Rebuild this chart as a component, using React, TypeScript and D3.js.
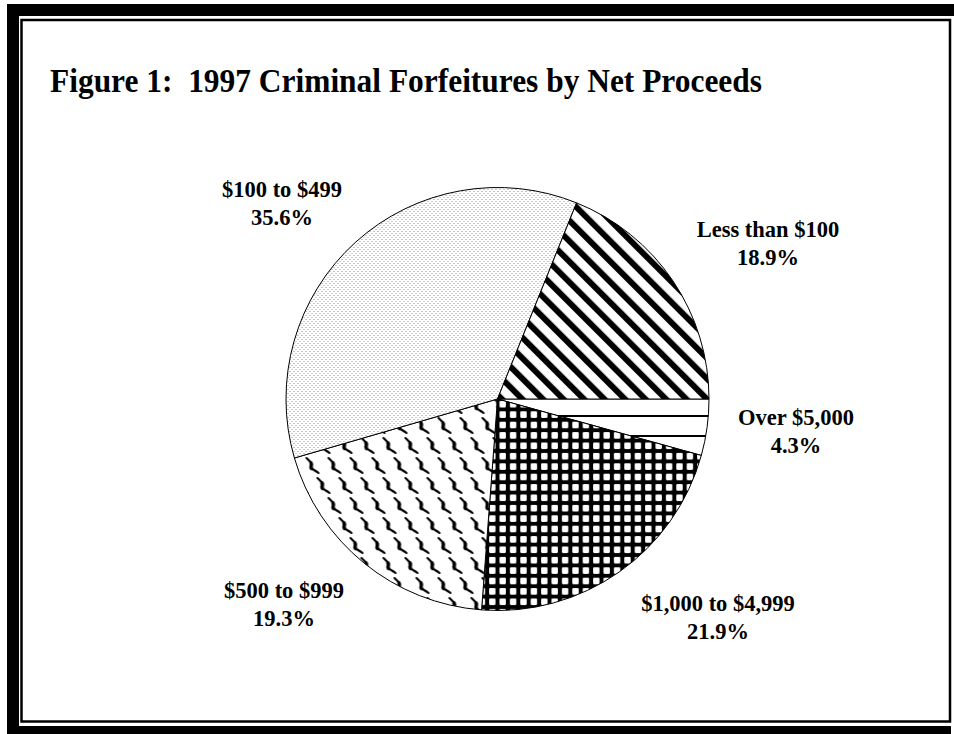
import * as d3 from "d3";

// slice order: clockwise from 3 o'clock
const categories = ["Over $5,000", "$1,000 to $4,999", "$500 to $999", "$100 to $499", "Less than $100"];
const shares = [4.3, 21.9, 19.3, 35.6, 18.9];
const fills = ["hlines", "grid", "squiggle", "dots", "stripes"];

const W = 954;
const H = 734;
const cx = 497.5;
const cy = 399;
const R = 211.5;

// hand placed label anchors (center x, first baseline)
const labelAt: Record<string, [number, number]> = {
  "Over $5,000": [796, 425],
  "$1,000 to $4,999": [718, 611],
  "$500 to $999": [284, 598],
  "$100 to $499": [282, 197],
  "Less than $100": [768, 237],
};

const font = "'Liberation Serif', 'Times New Roman', serif";

type Row = { name: string; value: number; fill: string };

export default function App() {
  const rows: Row[] = categories.map((name, i) => ({ name, value: shares[i], fill: fills[i] }));
  const pie = d3
    .pie<Row>()
    .value((d) => d.value)
    .sort(null)
    .startAngle(Math.PI / 2)
    .endAngle(Math.PI / 2 + 2 * Math.PI);
  const arc = d3.arc<d3.PieArcDatum<Row>>().innerRadius(0).outerRadius(R);
  const arcs = pie(rows);

  // one chain-link motif, repeated twice per tile (staggered rows)
  const motif = (px: number, py: number, k: number) => (
    <g key={k} transform={`translate(${px},${py})`}>
      <path
        d="M-6,-7 L-2,-3 C0,-1 -2.5,1 -1,3 C0.5,5 3,5.5 6,8"
        fill="none"
        stroke="#000"
        strokeWidth={2.1}
        strokeLinecap="round"
      />
      <path d="M-1.5,-2 C0,0 -2.5,1.5 -1,3.5" fill="none" stroke="#000" strokeWidth={3.6} strokeLinecap="round" />
    </g>
  );

  return (
    <svg
      width={W}
      height={H}
      style={{ position: "absolute", left: 0, top: 0, background: "#fff" }}
    >
      <defs>
        <pattern id="hlines" patternUnits="userSpaceOnUse" x={0} y={416} width={20} height={20}>
          <rect width={20} height={20} fill="#fff" />
          <rect y={0} width={20} height={2} fill="#000" />
        </pattern>
        <pattern id="grid" patternUnits="userSpaceOnUse" x={0} y={0} width={10.4} height={10.4}>
          <rect width={10.4} height={10.4} fill="#000" />
          <rect x={2} y={2} width={6.4} height={6.4} rx={1} fill="#fff" />
        </pattern>
        <pattern id="squiggle" patternUnits="userSpaceOnUse" x={2} y={6} width={22} height={40}>
          <rect width={22} height={40} fill="#fff" />
          {[
            [0, 0],
            [22, 0],
            [0, 40],
            [22, 40],
            [11, 20],
          ].map(([px, py], k) => motif(px, py, k))}
        </pattern>
        <pattern id="dots" patternUnits="userSpaceOnUse" x={0} y={0} width={4} height={4}>
          <rect width={4} height={4} fill="#fff" />
          <rect x={0} y={0} width={1} height={1} fill="#8a8a8a" />
          <rect x={2} y={2} width={1} height={1} fill="#9a9a9a" />
        </pattern>
        <pattern
          id="stripes"
          patternUnits="userSpaceOnUse"
          x={0}
          y={0}
          width={14.5}
          height={14.5}
          patternTransform="rotate(-45)"
        >
          <rect width={14.5} height={14.5} fill="#fff" />
          <rect x={0} width={6} height={14.5} fill="#000" />
        </pattern>
      </defs>

      {/* frame */}
      <rect x={7} y={4} width={W - 7} height={12} fill="#000" />
      <rect x={7} y={4} width={12} height={H - 4} fill="#000" />
      <rect x={7} y={726} width={944} height={8} fill="#000" />
      <rect x={21.5} y={20} width={928.5} height={701.5} fill="none" stroke="#000" strokeWidth={2.5} />

      <text
        x={50}
        y={92}
        fontFamily={font}
        fontWeight="bold"
        fontSize={33}
        textLength={712}
        lengthAdjust="spacingAndGlyphs"
        fill="#000"
        style={{ whiteSpace: "pre" }}
      >
        {"Figure 1:\u00a0 1997 Criminal Forfeitures by Net Proceeds"}
      </text>

      <g transform={`translate(${cx},${cy})`}>
        {arcs.map((a) => (
          <path
            key={a.data.name}
            d={arc(a) ?? ""}
            fill={`url(#${a.data.fill})`}
            stroke="#000"
            strokeWidth={1}
            strokeLinejoin="round"
          />
        ))}
      </g>

      {arcs.map((a) => {
        const [lx, ly] = labelAt[a.data.name];
        return (
          <text
            key={a.data.name}
            x={lx}
            y={ly}
            textAnchor="middle"
            fontFamily={font}
            fontWeight="bold"
            fontSize={22.5}
            fill="#000"
          >
            <tspan x={lx}>{a.data.name}</tspan>
            <tspan x={lx} dy={27.5}>
              {a.data.value.toFixed(1)}%
            </tspan>
          </text>
        );
      })}
    </svg>
  );
}
